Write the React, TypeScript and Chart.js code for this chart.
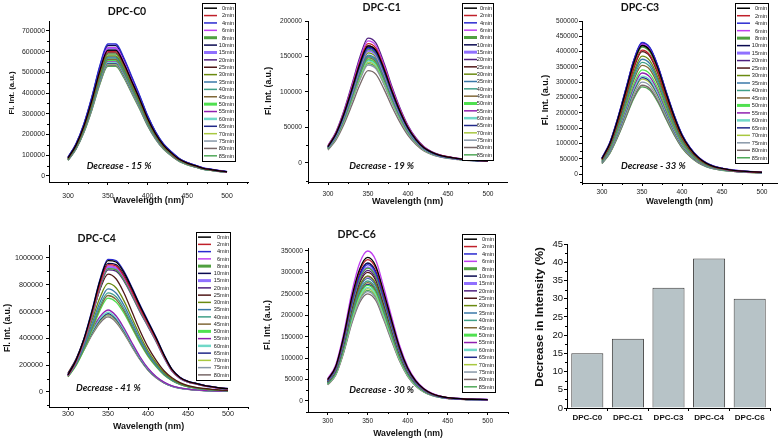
import React, { useEffect, useRef } from 'react';
import { Chart, registerables } from 'chart.js';

Chart.register(...registerables);
Chart.defaults.font.family = "'Liberation Sans', Arial, sans-serif";

// ---------- data ----------
const WAVELENGTHS = [300, 310, 320, 330, 340, 350, 360, 370, 380, 390, 400, 410, 420, 430, 440, 450, 460, 470, 480, 490, 500];
const TIME_LABELS = ['0min', '2min', '4min', '6min', '8min', '10min', '15min', '20min', '25min', '30min', '35min', '40min', '45min', '50min', '55min', '60min', '65min', '70min', '75min', '80min', '85min'];
const SERIES_COLORS = ['#000000', '#c0202a', '#2a2ad0', '#c040f0', '#50a040', '#0a0a50', '#9070ff', '#502080', '#501818', '#6a8a10', '#3a78a8', '#40a088', '#806838', '#50e050', '#9020b0', '#70d8c8', '#202888', '#a8c840', '#8898a8', '#786868', '#50a858'];
const SERIES_WIDTHS = [1.3, 1.3, 1.3, 1.3, 1.3, 1.3, 2, 1.3, 1.3, 1.3, 1.3, 1.3, 1.3, 1.3, 1.3, 1.3, 1.3, 1.3, 1.3, 1.3, 1.3];
const LEGEND_WIDTHS = [1.5, 1.5, 1.5, 1.5, 3, 1.5, 3, 1.5, 1.5, 1.5, 1.5, 1.5, 1.5, 3, 1.5, 2.5, 1.5, 1.5, 1.5, 1.5, 1.5];
const X_TICKS = [300, 350, 400, 450, 500];

// normalised spectral shapes (fraction of the peak)
const SHAPE_C0 = [0.14, 0.24, 0.39, 0.59, 0.82, 0.98, 0.98, 0.88, 0.74, 0.6, 0.45, 0.33, 0.24, 0.18, 0.13, 0.1, 0.08, 0.06, 0.05, 0.04, 0.033];
const SHAPE_C1 = [0.14, 0.25, 0.42, 0.63, 0.85, 1.0, 0.96, 0.8, 0.61, 0.44, 0.3, 0.2, 0.13, 0.09, 0.065, 0.05, 0.04, 0.03, 0.025, 0.02, 0.018];
const SHAPE_C3 = [0.12, 0.24, 0.43, 0.65, 0.87, 1.0, 0.96, 0.82, 0.63, 0.45, 0.3, 0.2, 0.13, 0.085, 0.058, 0.043, 0.032, 0.025, 0.02, 0.016, 0.013];
const SHAPE_C4_EARLY = [0.13, 0.24, 0.4, 0.61, 0.84, 0.99, 0.98, 0.9, 0.78, 0.65, 0.53, 0.41, 0.28, 0.17, 0.11, 0.08, 0.065, 0.05, 0.04, 0.03, 0.025];
const SHAPE_C4_MID = [0.16, 0.28, 0.45, 0.66, 0.87, 1.0, 0.96, 0.84, 0.68, 0.52, 0.38, 0.27, 0.18, 0.12, 0.08, 0.055, 0.04, 0.03, 0.022, 0.017, 0.013];
const SHAPE_C4_LATE = [0.22, 0.37, 0.56, 0.76, 0.92, 1.0, 0.93, 0.78, 0.6, 0.43, 0.29, 0.19, 0.12, 0.075, 0.05, 0.036, 0.026, 0.019, 0.014, 0.011, 0.009];
const SHAPE_GROUP_C4 = [0, 0, 0, 0, 0, 0, 0, 0, 1, 1, 1, 1, 1, 1, 2, 2, 2, 2, 2, 2];
const SHAPE_C6 = [0.15, 0.24, 0.45, 0.72, 0.92, 1.0, 0.94, 0.76, 0.56, 0.37, 0.23, 0.14, 0.085, 0.052, 0.034, 0.023, 0.018, 0.014, 0.012, 0.011, 0.01];

// peak intensities of every time point
const PEAK_C0 = [620000, 612000, 650000, 632000, 600000, 642000, 628000, 618000, 606000, 592000, 586000, 580000, 575000, 570000, 566000, 560000, 556000, 552000, 548000, 545000, 540000];
const PEAK_C1 = [165000, 168000, 162000, 172000, 160000, 163000, 158000, 176000, 165000, 155000, 152000, 150000, 148000, 146000, 150000, 144000, 145000, 142000, 138000, 130000, 140000];
const PEAK_C3 = [420000, 405000, 430000, 425000, 415000, 428000, 425000, 420000, 400000, 385000, 375000, 365000, 355000, 340000, 330000, 320000, 315000, 310000, 300000, 290000, 285000];
const PEAK_C4 = [990000, 960000, 1000000, 950000, 930000, 970000, 940000, 920000, 880000, 810000, 770000, 740000, 720000, 700000, 612000, 595000, 585000, 578000, 570000, 560000];
const PEAK_C6 = [335000, 330000, 318000, 350000, 310000, 322000, 312000, 305000, 300000, 292000, 286000, 280000, 276000, 270000, 290000, 265000, 272000, 262000, 255000, 250000, 258000];

const Y_TICKS_C0 = [0, 100000, 200000, 300000, 400000, 500000, 600000, 700000];
const Y_TICKS_C1 = [0, 50000, 100000, 150000, 200000];
const Y_TICKS_C3 = [0, 50000, 100000, 150000, 200000, 250000, 300000, 350000, 400000, 450000, 500000];
const Y_TICKS_C4 = [0, 200000, 400000, 600000, 800000, 1000000];
const Y_TICKS_C6 = [0, 50000, 100000, 150000, 200000, 250000, 300000, 350000];

const BAR_CATEGORIES = ['DPC-C0', 'DPC-C1', 'DPC-C3', 'DPC-C4', 'DPC-C6'];
const BAR_VALUES = [15, 19, 33, 41, 30];
const BAR_Y_TICKS = [0, 5, 10, 15, 20, 25, 30, 35, 40, 45];

// ---------- plugins ----------
const boxLegendPlugin = {
  id: 'boxLegend',
  afterDraw(chart: any, _args: any, opts: any) {
    if (!opts || !opts.box) return;
    const { x, y, w, h } = opts.box;
    const ctx = chart.ctx;
    const ds = chart.data.datasets;
    const n = ds.length;
    ctx.save();
    ctx.fillStyle = '#ffffff';
    ctx.fillRect(x, y, w, h);
    ctx.strokeStyle = '#000';
    ctx.lineWidth = 1;
    ctx.strokeRect(x + 0.5, y + 0.5, w, h);
    const rowH = (h - 3) / n;
    ctx.font = `${opts.fontSize || 5.3}px "Liberation Sans", Arial, sans-serif`;
    ctx.textAlign = 'right';
    ctx.textBaseline = 'middle';
    ds.forEach((d: any, i: number) => {
      const cy = y + 1.5 + rowH * (i + 0.5);
      ctx.strokeStyle = d.borderColor;
      ctx.lineWidth = d.legendWidth || 1.5;
      ctx.beginPath();
      ctx.moveTo(x + 2, cy);
      ctx.lineTo(x + 15, cy);
      ctx.stroke();
      ctx.fillStyle = '#222';
      ctx.fillText(d.label, x + w - 1, cy + 0.3);
    });
    ctx.restore();
  },
};

const minorTicksPlugin = {
  id: 'minorTicks',
  afterDraw(chart: any, _args: any, opts: any) {
    if (!opts || !opts.axes) return;
    const ctx = chart.ctx;
    ctx.save();
    ctx.strokeStyle = '#000';
    ctx.lineWidth = 1;
    for (const id of opts.axes) {
      const scale = chart.scales[id];
      if (!scale) continue;
      const vals = scale.ticks.map((t: any) => t.value);
      if (vals.length < 2) continue;
      const step = vals[1] - vals[0];
      for (let v = vals[0] - step / 2; v <= vals[vals.length - 1] + step / 2 + 1e-9; v += step) {
        if (v < scale.min || v > scale.max) continue;
        const p = Math.round(scale.getPixelForValue(v)) + 0.5;
        ctx.beginPath();
        if (id === 'x') {
          ctx.moveTo(p, scale.top);
          ctx.lineTo(p, scale.top + 2);
        } else {
          ctx.moveTo(scale.right, p);
          ctx.lineTo(scale.right - 2, p);
        }
        ctx.stroke();
      }
    }
    ctx.restore();
  },
};

// ---------- layout config ----------
type Panel = {
  title: string;
  decrease: string;
  box: { left: number; top: number; width: number; height: number };
  area: { l: number; r: number; t: number; b: number };
  xRange: [number, number];
  yRange: [number, number];
  yTicks: number[];
  peaks: number[];
  shapes: number[][];
  groups?: number[];
  legend: { x: number; y: number; w: number; h: number };
  titleAt: [number, number];
  decAt: [number, number];
  yTitleAt: [number, number];
  yTitleSize: number;
  tickSize: number;
  xTitleSize: number;
  xTitlePad: number;
  yTickPad: number;
  xTickPad: number;
};

const PANELS: Panel[] = [
  {
    title: 'DPC-C0', decrease: 'Decrease - 15 %',
    box: { left: 0, top: 0, width: 260, height: 215 }, area: { l: 49, r: 248, t: 21, b: 182 },
    xRange: [276, 526.4], yRange: [-29000, 748000], yTicks: Y_TICKS_C0, peaks: PEAK_C0, shapes: [SHAPE_C0],
    legend: { x: 202, y: 3, w: 33, h: 158 }, titleAt: [127, 11], decAt: [119, 166], yTitleAt: [11.7, 93.3], yTitleSize: 7.7,
    tickSize: 6.9, xTitleSize: 8.9, xTitlePad: 10, yTickPad: 1, xTickPad: 7,
  },
  {
    title: 'DPC-C1', decrease: 'Decrease - 19 %',
    box: { left: 260, top: 0, width: 260, height: 215 }, area: { l: 48, r: 247, t: 21, b: 182 },
    xRange: [275, 523.75], yRange: [-26800, 200000], yTicks: Y_TICKS_C1, peaks: PEAK_C1, shapes: [SHAPE_C1],
    legend: { x: 202, y: 3, w: 31, h: 157 }, titleAt: [381.7, 7], decAt: [381.7, 166], yTitleAt: [268.3, 90.8], yTitleSize: 8.6,
    tickSize: 6.6, xTitleSize: 8.9, xTitlePad: 9, yTickPad: 3, xTickPad: 5,
  },
  {
    title: 'DPC-C3', decrease: 'Decrease - 33 %',
    box: { left: 520, top: 0, width: 264, height: 215 }, area: { l: 62, r: 257, t: 21, b: 183 },
    xRange: [275, 518.75], yRange: [-29400, 500000], yTicks: Y_TICKS_C3, peaks: PEAK_C3, shapes: [SHAPE_C3],
    legend: { x: 215, y: 3, w: 33, h: 160 }, titleAt: [640, 7], decAt: [653.3, 165.7], yTitleAt: [545, 100], yTitleSize: 9,
    tickSize: 6.6, xTitleSize: 8.4, xTitlePad: 9, yTickPad: 1, xTickPad: 1.8,
  },
  {
    title: 'DPC-C4', decrease: 'Decrease - 41 %',
    box: { left: 0, top: 215, width: 260, height: 224 }, area: { l: 49, r: 248, t: 30, b: 192 },
    xRange: [276.25, 525], yRange: [-112000, 1097000], yTicks: Y_TICKS_C4, peaks: PEAK_C4,
    shapes: [SHAPE_C4_EARLY, SHAPE_C4_MID, SHAPE_C4_LATE], groups: SHAPE_GROUP_C4,
    legend: { x: 196, y: 17, w: 34, h: 148 }, titleAt: [96.7, 238.3], decAt: [108.3, 388.3], yTitleAt: [6.7, 327.5], yTitleSize: 8.6,
    tickSize: 7.2, xTitleSize: 8.9, xTitlePad: 7.6, yTickPad: 3, xTickPad: 0,
  },
  {
    title: 'DPC-C6', decrease: 'Decrease - 30 %',
    box: { left: 260, top: 215, width: 260, height: 224 }, area: { l: 48, r: 248, t: 33, b: 197 },
    xRange: [275.4, 525.4], yRange: [-25700, 357000], yTicks: Y_TICKS_C6, peaks: PEAK_C6, shapes: [SHAPE_C6],
    legend: { x: 202, y: 19, w: 33, h: 158 }, titleAt: [356.7, 234.3], decAt: [381.7, 390], yTitleAt: [266.7, 325], yTitleSize: 8.9,
    tickSize: 6.6, xTitleSize: 8.7, xTitlePad: 1.4, yTickPad: 2, xTickPad: 1.8,
  },
];

const BAR_PANEL = {
  box: { left: 520, top: 215, width: 264, height: 224 }, area: { l: 47, r: 250, t: 29, b: 193 },
  yTitleAt: [540, 317] as [number, number],
};

const axisCommon = {
  grid: { drawOnChartArea: false, drawTicks: true, tickLength: 3, tickColor: '#000', tickWidth: 1 },
  border: { display: true, color: '#000', width: 1 },
};

function spectrumConfig(p: Panel): any {
  const datasets = p.peaks.map((peak, i) => {
    const shape = p.shapes[p.groups ? p.groups[i] : 0];
    return {
      label: TIME_LABELS[i],
      data: WAVELENGTHS.map((w, j) => ({ x: w, y: shape[j] * peak })),
      borderColor: SERIES_COLORS[i],
      backgroundColor: SERIES_COLORS[i],
      borderWidth: SERIES_WIDTHS[i],
      legendWidth: LEGEND_WIDTHS[i],
      pointRadius: 0,
      cubicInterpolationMode: 'monotone',
      fill: false,
    };
  });
  return {
    type: 'line',
    data: { datasets },
    options: {
      animation: false,
      responsive: false,
      events: [],
      layout: { padding: { left: 0, top: p.area.t, right: p.box.width - p.area.r, bottom: 0 } },
      plugins: {
        legend: { display: false },
        tooltip: { enabled: false },
        boxLegend: { box: p.legend, fontSize: 5.6 },
        minorTicks: { axes: ['x', 'y'] },
      },
      scales: {
        x: {
          type: 'linear',
          min: p.xRange[0],
          max: p.xRange[1],
          afterBuildTicks: (s: any) => { s.ticks = X_TICKS.map((v) => ({ value: v })); },
          afterFit: (s: any) => { s.height = p.box.height - p.area.b; },
          ...axisCommon,
          ticks: { autoSkip: false, maxRotation: 0, font: { size: p.tickSize }, color: '#222', padding: p.xTickPad, callback: (v: any) => String(v) },
          title: { display: true, text: 'Wavelength (nm)', color: '#111', font: { size: p.xTitleSize, weight: 'bold', lineHeight: 1 }, padding: { top: 0, bottom: p.xTitlePad } },
        },
        y: {
          type: 'linear',
          min: p.yRange[0],
          max: p.yRange[1],
          afterBuildTicks: (s: any) => { s.ticks = p.yTicks.map((v) => ({ value: v })); },
          afterFit: (s: any) => { s.width = p.area.l; },
          ...axisCommon,
          ticks: { autoSkip: false, font: { size: p.tickSize }, color: '#222', padding: p.yTickPad, callback: (v: any) => String(v) },
        },
      },
    },
    plugins: [boxLegendPlugin, minorTicksPlugin],
  };
}

function barConfig(): any {
  const b = BAR_PANEL;
  return {
    type: 'bar',
    data: {
      labels: BAR_CATEGORIES,
      datasets: [{
        label: 'Decrease in Intensity (%)',
        data: BAR_VALUES,
        backgroundColor: '#b7c3c7',
        borderColor: '#3c3c3c',
        borderWidth: 1,
        barPercentage: 0.79,
        categoryPercentage: 1,
      }],
    },
    options: {
      animation: false,
      responsive: false,
      events: [],
      layout: { padding: { left: 0, top: b.area.t, right: b.box.width - b.area.r, bottom: 0 } },
      plugins: { legend: { display: false }, tooltip: { enabled: false }, minorTicks: { axes: ['y'] } },
      scales: {
        x: {
          afterFit: (s: any) => { s.height = b.box.height - b.area.b; },
          grid: { drawOnChartArea: false, drawTicks: true, tickLength: 3, tickColor: '#000', offset: true },
          border: { display: true, color: '#000', width: 1 },
          ticks: { font: { size: 8, weight: 'bold' }, color: '#111', padding: 2, maxRotation: 0, autoSkip: false },
        },
        y: {
          min: 0,
          max: 45,
          afterBuildTicks: (s: any) => { s.ticks = BAR_Y_TICKS.map((v) => ({ value: v })); },
          afterFit: (s: any) => { s.width = b.area.l; },
          grid: { drawOnChartArea: false, drawTicks: true, tickLength: 3, tickColor: '#000' },
          border: { display: true, color: '#000', width: 1 },
          ticks: { font: { size: 9.5 }, color: '#111', padding: 1, autoSkip: false },
        },
      },
    },
    plugins: [minorTicksPlugin],
  };
}

function ChartBox({ config, box }: { config: any; box: { left: number; top: number; width: number; height: number } }) {
  const ref = useRef<HTMLCanvasElement | null>(null);
  useEffect(() => {
    if (!ref.current) return;
    const chart = new Chart(ref.current, config);
    return () => chart.destroy();
  }, []);
  return (
    <canvas
      ref={ref}
      width={box.width}
      height={box.height}
      style={{ position: 'absolute', left: box.left, top: box.top, width: box.width, height: box.height }}
    />
  );
}

const centered = (x: number, y: number, extra: React.CSSProperties = {}): React.CSSProperties => ({
  position: 'absolute',
  left: x,
  top: y,
  transform: 'translate(-50%, -50%)',
  whiteSpace: 'nowrap',
  lineHeight: 1,
  color: '#111',
  ...extra,
});

export default function App() {
  return (
    <div style={{ position: 'fixed', left: 0, top: 0, width: 784, height: 439, background: '#fff', overflow: 'hidden' }}>
      {PANELS.map((p) => (
        <ChartBox key={p.title} config={spectrumConfig(p)} box={p.box} />
      ))}
      <ChartBox config={barConfig()} box={BAR_PANEL.box} />
      {PANELS.map((p) => (
        <React.Fragment key={p.title + '-t'}>
          <div style={centered(p.titleAt[0], p.titleAt[1], { fontFamily: 'Lato, sans-serif', fontWeight: 700, fontSize: 10.5 })}>{p.title}</div>
          <div style={centered(p.decAt[0], p.decAt[1], { fontFamily: 'Lato, sans-serif', fontWeight: 700, fontStyle: 'italic', fontSize: 9.5 })}>{p.decrease}</div>
          <div style={centered(p.yTitleAt[0], p.yTitleAt[1], { fontFamily: "'Liberation Sans', Arial, sans-serif", fontWeight: 700, fontSize: p.yTitleSize, transform: 'translate(-50%, -50%) rotate(-90deg)' })}>Fl. Int. (a.u.)</div>
        </React.Fragment>
      ))}
      <div style={centered(BAR_PANEL.yTitleAt[0], BAR_PANEL.yTitleAt[1], { fontFamily: "'Liberation Sans', Arial, sans-serif", fontWeight: 700, fontSize: 11.8, transform: 'translate(-50%, -50%) rotate(-90deg)' })}>Decrease in Intensity (%)</div>
    </div>
  );
}
